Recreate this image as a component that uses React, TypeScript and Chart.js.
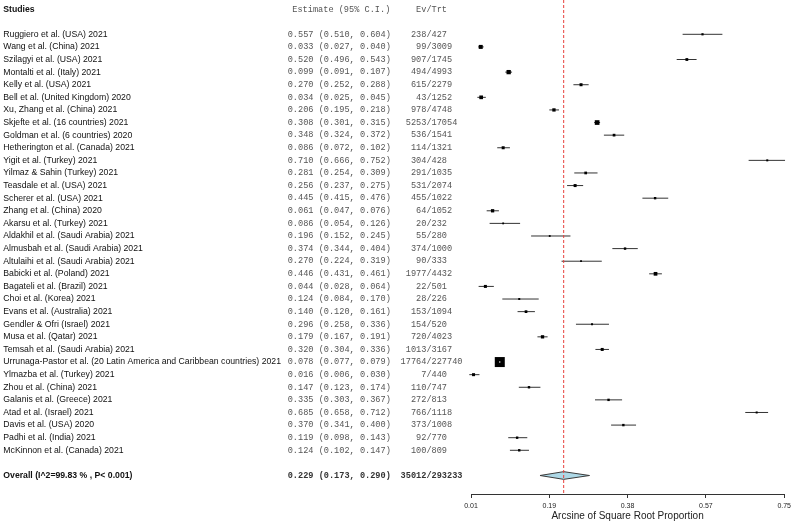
import React, { useEffect, useRef } from 'react';
import { Chart, registerables } from 'chart.js';

Chart.register(...registerables);

const studies = [
  'Ruggiero et al. (USA) 2021',
  'Wang et al. (China) 2021',
  'Szilagyi et al. (USA) 2021',
  'Montalti et al. (Italy) 2021',
  'Kelly et al. (USA) 2021',
  'Bell et al. (United Kingdom) 2020',
  'Xu, Zhang et al. (China) 2021',
  'Skjefte et al. (16 countries) 2021',
  'Goldman et al. (6 countries) 2020',
  'Hetherington et al. (Canada) 2021',
  'Yigit et al. (Turkey) 2021',
  'Yilmaz & Sahin (Turkey) 2021',
  'Teasdale et al. (USA) 2021',
  'Scherer et al. (USA) 2021',
  'Zhang et al. (China) 2020',
  'Akarsu et al. (Turkey) 2021',
  'Aldakhil et al. (Saudi Arabia) 2021',
  'Almusbah et al. (Saudi Arabia) 2021',
  'Altulaihi et al. (Saudi Arabia) 2021',
  'Babicki et al. (Poland) 2021',
  'Bagateli et al. (Brazil) 2021',
  'Choi et al. (Korea) 2021',
  'Evans et al. (Australia) 2021',
  'Gendler & Ofri (Israel) 2021',
  'Musa et al. (Qatar) 2021',
  'Temsah et al. (Saudi Arabia) 2021',
  'Urrunaga-Pastor et al. (20 Latin America and Caribbean countries) 2021',
  'Ylmazba et al. (Turkey) 2021',
  'Zhou et al. (China) 2021',
  'Galanis et al. (Greece) 2021',
  'Atad et al. (Israel) 2021',
  'Davis et al. (USA) 2020',
  'Padhi et al. (India) 2021',
  'McKinnon et al. (Canada) 2021',
];

const estimates = [0.557, 0.033, 0.520, 0.099, 0.270, 0.034, 0.206, 0.308, 0.348, 0.086, 0.710, 0.281, 0.256, 0.445, 0.061, 0.086, 0.196, 0.374, 0.270, 0.446, 0.044, 0.124, 0.140, 0.296, 0.179, 0.320, 0.078, 0.016, 0.147, 0.335, 0.685, 0.370, 0.119, 0.124];
const lowerCI = [0.510, 0.027, 0.496, 0.091, 0.252, 0.025, 0.195, 0.301, 0.324, 0.072, 0.666, 0.254, 0.237, 0.415, 0.047, 0.054, 0.152, 0.344, 0.224, 0.431, 0.028, 0.084, 0.120, 0.258, 0.167, 0.304, 0.077, 0.006, 0.123, 0.303, 0.658, 0.341, 0.098, 0.102];
const upperCI = [0.604, 0.040, 0.543, 0.107, 0.288, 0.045, 0.218, 0.315, 0.372, 0.102, 0.752, 0.309, 0.275, 0.476, 0.076, 0.126, 0.245, 0.404, 0.319, 0.461, 0.064, 0.170, 0.161, 0.336, 0.191, 0.336, 0.079, 0.030, 0.174, 0.367, 0.712, 0.400, 0.143, 0.147];
const events = [238, 99, 907, 494, 615, 43, 978, 5253, 536, 114, 304, 291, 531, 455, 64, 20, 55, 374, 90, 1977, 22, 28, 153, 154, 720, 1013, 17764, 7, 110, 272, 766, 373, 92, 100];
const totals = [427, 3009, 1745, 4993, 2279, 1252, 4748, 17054, 1541, 1321, 428, 1035, 2074, 1022, 1052, 232, 280, 1000, 333, 4432, 501, 226, 1094, 520, 4023, 3167, 227740, 440, 747, 813, 1118, 1008, 770, 809];
// visual box side (px) of each study marker
const boxSizes = [2.2, 4, 2.8, 4.3, 3, 3.7, 3.3, 4.7, 2.7, 3, 2, 2.7, 3, 2.4, 3.3, 1.8, 1.8, 2.4, 1.8, 3.7, 3, 2, 2.7, 2, 3.3, 3, 10, 3, 2.4, 2.4, 2, 2.4, 2.4, 2.4];

const overallLabel = 'Overall (I^2=99.83 % , P< 0.001)';
const overallEstimate = 0.229;
const overallLower = 0.173;
const overallUpper = 0.290;
const overallEvents = 35012;
const overallTotal = 293233;

const xTicks = [0.01, 0.195, 0.38, 0.565, 0.75];
const xTickLabels = ['0.01', '0.19', '0.38', '0.57', '0.75'];
const xTitle = 'Arcsine of Square Root Proportion';

const headerStudies = 'Studies';
const headerEstimate = 'Estimate (95% C.I.)';
const headerEvNum = 'Ev';
const headerEvDen = 'Trt';

const ROW_MIN = -2.721;
const ROW_MAX = 36.467;
const HEADER_ROW = -1.93;
const OVERALL_ROW = studies.length + 1;
const DIAMOND_HALF = 0.305;

const fmt = (v: number) => v.toFixed(3);

const textPlugin = {
  id: 'forestText',
  afterDraw(chart: any) {
    const ctx = chart.ctx as CanvasRenderingContext2D;
    const y = chart.scales.y;
    const sans = 'Liberation Sans';
    const mono = 'Liberation Mono';
    const nameX = 3.3;
    const estX = 287.7;
    const slashX = 426.4;
    ctx.save();
    ctx.textBaseline = 'middle';

    const drawRow = (row: number, name: string, est: string, num: string, den: string, bold: boolean) => {
      const py = y.getPixelForValue(row);
      ctx.textAlign = 'left';
      ctx.fillStyle = '#111';
      ctx.font = `${bold ? 'bold ' : ''}8.7px "${sans}"`;
      ctx.fillText(name, nameX, py);
      ctx.fillStyle = bold ? '#333' : '#555';
      ctx.font = `${bold ? 'bold ' : ''}8.6px "${mono}"`;
      ctx.fillText(est, estX, py);
      ctx.textAlign = 'right';
      ctx.fillText(num, slashX, py);
      ctx.textAlign = 'left';
      ctx.fillText('/' + den, slashX, py);
    };

    // header
    const hy = y.getPixelForValue(HEADER_ROW);
    ctx.textAlign = 'left';
    ctx.fillStyle = '#111';
    ctx.font = `bold 8.7px "${sans}"`;
    ctx.fillText(headerStudies, nameX, hy);
    ctx.fillStyle = '#555';
    ctx.font = `8.6px "${mono}"`;
    ctx.fillText(headerEstimate, estX + 4.6, hy);
    ctx.textAlign = 'right';
    ctx.fillText(headerEvNum, slashX, hy);
    ctx.textAlign = 'left';
    ctx.fillText('/' + headerEvDen, slashX, hy);

    studies.forEach((s, i) => {
      drawRow(i, s, `${fmt(estimates[i])} (${fmt(lowerCI[i])}, ${fmt(upperCI[i])})`, String(events[i]), String(totals[i]), false);
    });
    drawRow(OVERALL_ROW, overallLabel, `${fmt(overallEstimate)} (${fmt(overallLower)}, ${fmt(overallUpper)})`, String(overallEvents), String(overallTotal), true);
    ctx.restore();
  },
};

export default function App() {
  const canvasRef = useRef<HTMLCanvasElement | null>(null);

  useEffect(() => {
    if (!canvasRef.current) return;

    const ciData: any[] = [];
    studies.forEach((_, i) => {
      ciData.push({ x: lowerCI[i], y: i }, { x: upperCI[i], y: i }, { x: NaN, y: NaN });
    });
    const boxData = studies.map((_, i) => ({ x: estimates[i], y: i }));
    const diamondData = [
      { x: overallLower, y: OVERALL_ROW },
      { x: overallEstimate, y: OVERALL_ROW - DIAMOND_HALF },
      { x: overallUpper, y: OVERALL_ROW },
      { x: overallEstimate, y: OVERALL_ROW + DIAMOND_HALF },
      { x: overallLower, y: OVERALL_ROW },
    ];
    const refLine = [
      { x: overallEstimate, y: ROW_MIN },
      { x: overallEstimate, y: ROW_MAX },
    ];

    const chart = new Chart(canvasRef.current, {
      type: 'scatter',
      data: {
        datasets: [
          {
            data: refLine,
            showLine: true,
            borderColor: '#e8413c',
            borderWidth: 1,
            borderDash: [3, 2],
            pointRadius: 0,
            order: 1,
            clip: false,
          } as any,
          {
            data: boxData,
            pointStyle: 'circle',
            pointRadius: boxSizes.map((s) => (s > 6 ? 0.7 : 0)),
            backgroundColor: '#ffffff',
            borderWidth: 0,
            order: 2,
            clip: false,
          } as any,
          {
            data: boxData,
            pointStyle: 'rect',
            pointRadius: boxSizes.map((s) => s / Math.SQRT2),
            backgroundColor: '#000000',
            borderWidth: 0,
            order: 3,
            clip: false,
          } as any,
          {
            data: diamondData,
            showLine: true,
            fill: 'shape',
            backgroundColor: '#add8e6',
            borderColor: '#3a3a3a',
            borderWidth: 1,
            pointRadius: 0,
            tension: 0,
            order: 4,
            clip: false,
          } as any,
          {
            data: ciData,
            showLine: true,
            spanGaps: false,
            borderColor: '#333333',
            borderWidth: 1,
            pointRadius: 0,
            order: 5,
            clip: false,
          } as any,
        ],
      },
      options: {
        animation: false,
        responsive: false,
        devicePixelRatio: 1,
        events: [],
        layout: { autoPadding: false, padding: { left: 471, right: 9, top: 0, bottom: 0 } },
        plugins: {
          legend: { display: false },
          tooltip: { enabled: false },
        },
        scales: {
          x: {
            type: 'linear',
            position: 'bottom',
            min: 0.01,
            max: 0.75,
            afterBuildTicks: (s: any) => {
              s.ticks = xTicks.map((v) => ({ value: v }));
            },
            afterFit: (s: any) => {
              s.height = 29;
            },
            ticks: {
              autoSkip: false,
              maxRotation: 0,
              padding: 4,
              color: '#222',
              font: { family: 'Liberation Sans', size: 7 },
              callback: (_v: any, i: number) => xTickLabels[i],
            },
            grid: {
              drawOnChartArea: false,
              drawTicks: true,
              tickLength: 4,
              color: '#333',
            },
            border: { display: true, color: '#333', width: 1 },
            title: {
              display: true,
              text: xTitle,
              color: '#222',
              font: { family: 'Liberation Sans', size: 10 },
              padding: { top: 0, bottom: 1 },
            },
          },
          y: {
            type: 'linear',
            display: false,
            reverse: true,
            min: ROW_MIN,
            max: ROW_MAX,
          },
        },
      } as any,
      plugins: [textPlugin],
    });

    return () => chart.destroy();
  }, []);

  return (
    <div style={{ position: 'absolute', left: 0, top: 0, width: 795, height: 523, background: '#fff' }}>
      <canvas ref={canvasRef} width={795} height={523} style={{ display: 'block' }} />
    </div>
  );
}
